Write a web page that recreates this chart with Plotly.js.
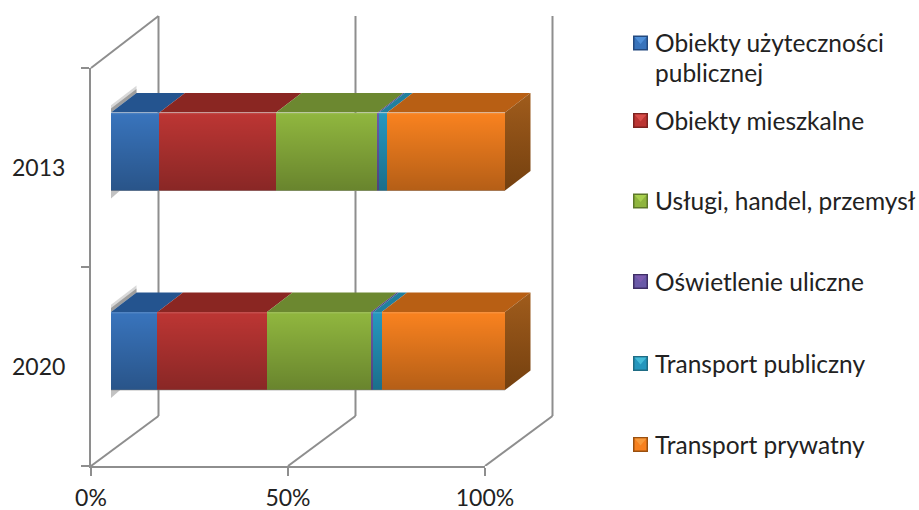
<!DOCTYPE html>
<html lang="pl">
<head>
<meta charset="utf-8">
<title>Struktura zużycia energii</title>
<script src="https://cdn.plot.ly/plotly-3.0.1.min.js"></script>
<style>
  html, body { margin: 0; padding: 0; background: #fff; }
  #chart { width: 919px; height: 510px; }
</style>
</head>
<body>
<div id="chart"></div>
<script>
// Years, bottom bar first
const years = ['2020', '2013'];

// Percentage share per sector, in the order of `years`
const obiektyPubliczne = [11.8, 12.3];
const obiektyMieszkalne = [27.8, 29.6];
const uslugiHandel = [26.5, 25.8];
const oswietlenie = [0.5, 0.4];
const transportPubliczny = [2.1, 2.0];
const transportPrywatny = [31.3, 29.9];

const seriesNames = [
  'Obiekty użyteczności publicznej', 'Obiekty mieszkalne', 'Usługi, handel, przemysł',
  'Oświetlenie uliczne', 'Transport publiczny', 'Transport prywatny'
];
const seriesValues = [
  obiektyPubliczne, obiektyMieszkalne, uslugiHandel,
  oswietlenie, transportPubliczny, transportPrywatny
];
const percentTicks = [0, 50, 100];
const legendLabels = [
  ['Obiekty użyteczności', 'publicznej'], ['Obiekty mieszkalne'], ['Usługi, handel, przemysł'],
  ['Oświetlenie uliczne'], ['Transport publiczny'], ['Transport prywatny']
];

// Colours per sector: front face, top face, legend highlight, legend rim
const frontColors = ['#3873bb', '#bb3533', '#8fb53e', '#6a5aa8', '#2596bd', '#f7811f'];
const topColors = ['#24548f', '#8a2622', '#6c8830', '#4f4288', '#217f9e', '#b85f14'];
const swatchLight = ['#4f8fd8', '#d84e4a', '#a8d04e', '#7d5cb0', '#45bcd8', '#f79a3c'];
const swatchDark = ['#23497e', '#7c2320', '#5d7829', '#3f2f66', '#1f6c84', '#9a500f'];

// Canvas and projection geometry, in pixels
const W = 919, H = 510, floorY = 466;
const pxPerPercent = 3.94, pxPerBand = 199.5;
const barFrontX = 111, barCenterY = 351;
const axisX0 = 91, axisY1 = 68;
const barThickness = 78 / pxPerBand;

// Bar depth and chart box depth, in units of the bar axes
const barDepthX = 25.5 / pxPerPercent, barDepthY = 19.5 / pxPerBand;
const boxDepthX = 67.5 / pxPerPercent, boxDepthY = 50 / pxPerBand;
const boxFrontX = (axisX0 - barFrontX) / pxPerPercent;
const boxFrontY = (barCenterY - floorY) / pxPerBand;
const wallTopY = (barCenterY - 16) / pxPerBand;

const paperX = px => px / W;
const paperY = px => (floorY - px) / floorY;

function polygon(xs, ys, style) {
  return Object.assign({
    type: 'scatter', mode: 'lines', x: xs.concat(xs[0]), y: ys.concat(ys[0]),
    fill: 'toself', line: { width: 0 }, hoverinfo: 'skip', showlegend: false,
    xaxis: 'x', yaxis: 'y'
  }, style);
}

const traces = [];

// Front faces: the stacked bars themselves
seriesValues.forEach((values, i) => {
  traces.push({
    type: 'bar', orientation: 'h', name: seriesNames[i],
    x: values, y: years.map((_, k) => k), width: barThickness,
    marker: { color: frontColors[i], line: { width: 0 } },
    xaxis: 'x', yaxis: 'y', showlegend: false
  });
});

years.forEach((year, k) => {
  const top = k + barThickness / 2, bottom = k - barThickness / 2;
  let start = 0;

  // Soft shadows at the left edge of the bar
  traces.push(polygon(
    [0, barDepthX, barDepthX, 0],
    [top, top + barDepthY, top + barDepthY + 0.036, top + 0.036],
    { fillcolor: 'rgba(130,130,130,0.3)' }));
  traces.push(polygon(
    [0, barDepthX, barDepthX, 0],
    [top, top + barDepthY, top + barDepthY + 0.02, top + 0.02],
    { fillcolor: 'rgba(100,100,100,0.5)' }));
  traces.push(polygon(
    [0, barDepthX * 0.36, 0],
    [bottom, bottom, bottom - 0.04],
    { fillcolor: 'rgba(120,120,120,0.45)' }));

  // Top face of every segment
  seriesValues.forEach((values, i) => {
    const end = start + values[k];
    traces.push(polygon(
      [start, end, end + barDepthX, start + barDepthX],
      [top, top, top + barDepthY, top + barDepthY],
      { fillcolor: topColors[i] }));
    start = end;
  });

  // Side face closing the stack on the right
  traces.push(polygon(
    [start, start + barDepthX, start + barDepthX, start],
    [top, top + barDepthY, bottom + barDepthY, bottom],
    { fillgradient: {
        type: 'vertical', start: top + barDepthY, stop: bottom,
        colorscale: [[0, '#a05c1c'], [1, '#74400f']]
      } }));

  // Vertical shading laid over all front faces
  traces.push(polygon(
    [0, start, start, 0], [top, top, bottom, bottom],
    { fillgradient: {
        type: 'vertical', start: top, stop: bottom,
        colorscale: [
          [0, 'rgba(255,255,255,0.16)'], [0.03, 'rgba(255,255,255,0)'],
          [0.04, 'rgba(0,0,0,0)'], [1, 'rgba(0,0,0,0.27)']
        ]
      } }));

  // Thin contact line beneath the bar
  traces.push({
    type: 'scatter', mode: 'lines', x: [0, start], y: [bottom, bottom],
    line: { color: 'rgba(130,130,130,0.55)', width: 1.2 },
    hoverinfo: 'skip', showlegend: false, xaxis: 'x', yaxis: 'y'
  });
});

// Carries the visible category and percent axes
traces.push({
  type: 'scatter', mode: 'markers', x: years.map(() => 0), y: years,
  marker: { opacity: 0 }, hoverinfo: 'skip', showlegend: false,
  xaxis: 'x2', yaxis: 'y2'
});

// Chart box: side wall edge and gridlines running over the floor and back wall
const gridColor = '#8e8e8e';
const frameLine = (x0, y0, x1, y1) => ({
  type: 'line', xref: 'x', yref: 'y', layer: 'below',
  x0, y0, x1, y1, line: { color: gridColor, width: 2 }
});
const shapes = [];
percentTicks.forEach(tick => {
  const fx = boxFrontX + tick, bx = fx + boxDepthX, by = boxFrontY + boxDepthY;
  shapes.push(frameLine(fx, boxFrontY, bx, by));
  shapes.push(frameLine(bx, by, bx, wallTopY));
});
shapes.push(frameLine(
  boxFrontX, (barCenterY - axisY1) / pxPerBand,
  boxFrontX + boxDepthX, wallTopY));

// Legend keys and labels
const legendCenters = [43, 120.5, 201, 281.5, 363.5, 444.5];
const legendLineGap = 29;
const keySize = 15, keyLeft = 633, keyInset = 1.5;
const annotations = [];
legendLabels.forEach((lines, i) => {
  const cy = legendCenters[i];
  const rect = (inset, color) => ({
    type: 'rect', xref: 'paper', yref: 'paper',
    x0: paperX(keyLeft + inset), x1: paperX(keyLeft + keySize - inset),
    y0: paperY(cy + keySize / 2 - inset), y1: paperY(cy - keySize / 2 + inset),
    fillcolor: color, line: { width: 0 }
  });
  shapes.push(rect(0, swatchDark[i]));
  shapes.push(rect(keyInset, frontColors[i]));
  shapes.push({
    type: 'path', xref: 'paper', yref: 'paper', fillcolor: swatchLight[i], line: { width: 0 },
    path: 'M' + paperX(keyLeft + keyInset) + ',' + paperY(cy - keySize / 2 + keyInset) +
      'L' + paperX(keyLeft + keySize - keyInset) + ',' + paperY(cy - keySize / 2 + keyInset) +
      'L' + paperX(keyLeft + keySize / 2) + ',' + paperY(cy + 1) + 'Z'
  });

  lines.forEach((line, n) => {
    annotations.push({
      xref: 'paper', yref: 'paper', x: paperX(653),
      y: paperY(cy + n * legendLineGap), xanchor: 'left', yanchor: 'middle',
      align: 'left', showarrow: false, text: line,
      font: { family: 'Lato, Carlito, sans-serif', size: 24.5, color: '#222' }
    });
  });
});

const layout = {
  width: W, height: H,
  margin: { l: 0, r: 0, t: 0, b: H - floorY, pad: 0 },
  paper_bgcolor: '#fff', plot_bgcolor: 'rgba(0,0,0,0)',
  barmode: 'stack', showlegend: false, hovermode: false,
  font: { family: 'Lato, Carlito, sans-serif', color: '#222' },
  xaxis: {
    domain: [0, 1], visible: false, fixedrange: true,
    range: [-barFrontX / pxPerPercent, (W - barFrontX) / pxPerPercent]
  },
  yaxis: {
    domain: [0, 1], visible: false, fixedrange: true,
    range: [(barCenterY - floorY) / pxPerBand, barCenterY / pxPerBand]
  },
  xaxis2: {
    domain: [paperX(axisX0), paperX(485)], anchor: 'y2', range: [0, 100],
    tickmode: 'array', tickvals: percentTicks, ticktext: percentTicks.map(v => v + '%'),
    showgrid: false, zeroline: false, showline: true, linecolor: gridColor, linewidth: 2,
    ticks: 'outside', ticklen: 8, tickwidth: 2, tickcolor: gridColor,
    ticklabelstandoff: 2, tickfont: { size: 23, color: '#222' }, fixedrange: true
  },
  yaxis2: {
    domain: [0, paperY(axisY1)], anchor: 'x2', type: 'category',
    categoryorder: 'array', categoryarray: years, range: [-0.5, 1.5], tickson: 'boundaries',
    showgrid: false, zeroline: false, showline: true, linecolor: gridColor, linewidth: 2,
    ticks: 'outside', ticklen: 8, tickwidth: 2, tickcolor: gridColor,
    ticklabelstandoff: 19, tickfont: { size: 23, color: '#222' }, fixedrange: true
  },
  shapes, annotations
};

Plotly.newPlot('chart', traces, layout, { displayModeBar: false, responsive: false });
</script>
</body>
</html>
